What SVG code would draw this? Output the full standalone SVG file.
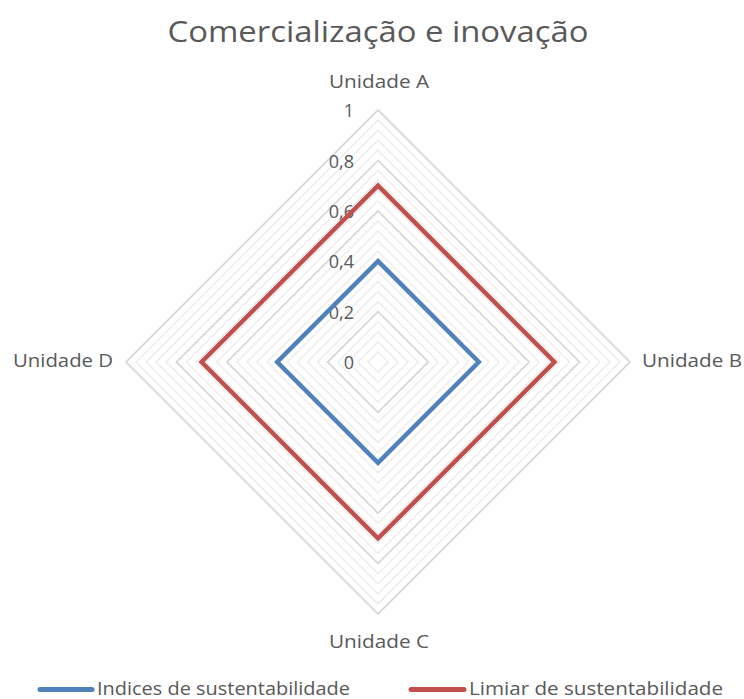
<svg xmlns="http://www.w3.org/2000/svg" width="744" height="699" viewBox="0 0 744 699">
<style>
text{font-family:"Open Sans","Liberation Sans",sans-serif;fill:#595959}
.minor{fill:none;stroke:#ededed;stroke-width:1.5}
.major{fill:none;stroke:#d9d9d9;stroke-width:1.8}
.lbl{font-size:18px}
.ax{font-size:18px;text-anchor:end}
.blue{fill:none;stroke:#4f81bd;stroke-width:4.5;stroke-linejoin:miter}
.red{fill:none;stroke:#c0504d;stroke-width:4.5;stroke-linejoin:miter}
</style>
<rect width="744" height="699" fill="#ffffff"/>
<text x="378" y="42" font-size="30" text-anchor="middle" textLength="421" lengthAdjust="spacingAndGlyphs">Comercialização e inovação</text>
<g id="grid">
<polygon class="minor" points="378,351.9 388.1,362 378,372.1 367.9,362"/>
<polygon class="minor" points="378,341.8 398.2,362 378,382.2 357.8,362"/>
<polygon class="minor" points="378,331.8 408.2,362 378,392.2 347.8,362"/>
<polygon class="minor" points="378,321.7 418.3,362 378,402.3 337.7,362"/>
<polygon class="minor" points="378,301.5 438.5,362 378,422.5 317.5,362"/>
<polygon class="minor" points="378,291.4 448.6,362 378,432.6 307.4,362"/>
<polygon class="minor" points="378,281.4 458.6,362 378,442.6 297.4,362"/>
<polygon class="minor" points="378,271.3 468.7,362 378,452.7 287.3,362"/>
<polygon class="minor" points="378,251.1 488.9,362 378,472.9 267.1,362"/>
<polygon class="minor" points="378,241.0 499.0,362 378,483.0 257.0,362"/>
<polygon class="minor" points="378,231.0 509.0,362 378,493.0 247.0,362"/>
<polygon class="minor" points="378,220.9 519.1,362 378,503.1 236.9,362"/>
<polygon class="minor" points="378,200.7 539.3,362 378,523.3 216.7,362"/>
<polygon class="minor" points="378,190.6 549.4,362 378,533.4 206.6,362"/>
<polygon class="minor" points="378,180.6 559.4,362 378,543.4 196.6,362"/>
<polygon class="minor" points="378,170.5 569.5,362 378,553.5 186.5,362"/>
<polygon class="minor" points="378,150.3 589.7,362 378,573.7 166.3,362"/>
<polygon class="minor" points="378,140.2 599.8,362 378,583.8 156.2,362"/>
<polygon class="minor" points="378,130.2 609.8,362 378,593.8 146.2,362"/>
<polygon class="minor" points="378,120.1 619.9,362 378,603.9 136.1,362"/>
<polygon class="major" points="378,311.6 428.4,362 378,412.4 327.6,362"/>
<polygon class="major" points="378,261.2 478.8,362 378,462.8 277.2,362"/>
<polygon class="major" points="378,210.8 529.2,362 378,513.2 226.8,362"/>
<polygon class="major" points="378,160.4 579.6,362 378,563.6 176.4,362"/>
<polygon class="major" points="378,110 630,362 378,614 126,362"/>
</g>
<g id="axis-labels">
<text class="ax" x="354" y="117">1</text>
<text class="ax" x="354" y="168">0,8</text>
<text class="ax" x="354" y="218">0,6</text>
<text class="ax" x="354" y="268">0,4</text>
<text class="ax" x="354" y="319">0,2</text>
<text class="ax" x="354" y="369">0</text>
</g>
<g id="connectors">
<polygon id="series-indices" class="blue" points="378,261.2 478.8,362 378,462.8 277.2,362"/>
<polygon id="series-limiar" class="red" points="378,185.6 554.4,362 378,538.4 201.6,362"/>
</g>
<g id="unidade-a"><text class="lbl" x="329" y="88" textLength="100" lengthAdjust="spacingAndGlyphs">Unidade A</text></g>
<g id="unidade-b"><text class="lbl" x="642" y="367" textLength="100" lengthAdjust="spacingAndGlyphs">Unidade B</text></g>
<g id="unidade-c"><text class="lbl" x="329" y="648" textLength="100" lengthAdjust="spacingAndGlyphs">Unidade C</text></g>
<g id="unidade-d"><text class="lbl" x="13" y="367" textLength="100" lengthAdjust="spacingAndGlyphs">Unidade D</text></g>
<g id="legend">
<line x1="40" y1="689.5" x2="92" y2="689.5" stroke="#4f81bd" stroke-width="5" stroke-linecap="round"/>
<text class="lbl" x="97" y="695" textLength="253" lengthAdjust="spacingAndGlyphs">Indices de sustentabilidade</text>
<line x1="411" y1="689.5" x2="464" y2="689.5" stroke="#c0504d" stroke-width="5" stroke-linecap="round"/>
<text class="lbl" x="469" y="695" textLength="254" lengthAdjust="spacingAndGlyphs">Limiar de sustentabilidade</text>
</g>
</svg>
